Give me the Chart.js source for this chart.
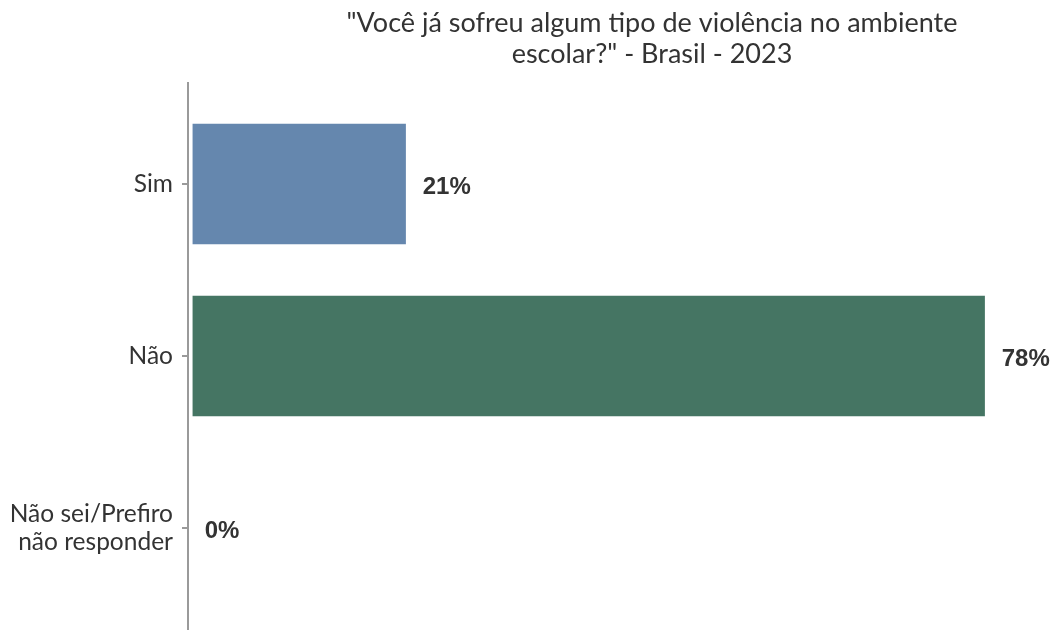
<!DOCTYPE html>
<html>
<head>
<meta charset="utf-8">
<script src="https://cdn.jsdelivr.net/npm/chart.js@4.4.1/dist/chart.umd.min.js"></script>
<style>
  html, body { margin: 0; padding: 0; background: #ffffff; }
  #wrap { width: 1056px; height: 630px; position: relative; }
</style>
</head>
<body>
<div id="wrap"><canvas id="c" width="1056" height="630"></canvas></div>
<script>
// Respostas e percentuais
const categories = [["Sim"], ["Não"], ["Não sei/Prefiro", "não responder"]];
const values = [21, 78, 0];
const valueLabels = ["21%", "78%", "0%"];
const barColors = ["#6587ae", "#457563", "#888888"];
const titleLines = ["\"Você já sofreu algum tipo de violência no ambiente", "escolar?\" - Brasil - 2023"];

// Título centralizado sobre o painel
const titlePlugin = {
  id: "titleLines",
  afterDraw(chart) {
    const ctx = chart.ctx;
    ctx.save();
    ctx.fillStyle = "#333333";
    ctx.font = "27px Lato";
    ctx.textAlign = "center";
    ctx.textBaseline = "alphabetic";
    titleLines.forEach((t, i) => ctx.fillText(t, 652, 32 + i * 31));
    ctx.restore();
  }
};

// Linha do eixo vertical, um pouco além da área das barras
const axisLinePlugin = {
  id: "axisLine",
  afterDraw(chart) {
    const { ctx, chartArea } = chart;
    ctx.save();
    ctx.strokeStyle = "#9a9a9a";
    ctx.lineWidth = 2;
    ctx.beginPath();
    ctx.moveTo(chartArea.left, chartArea.top - 16);
    ctx.lineTo(chartArea.left, chartArea.bottom + 16);
    ctx.stroke();
    ctx.restore();
  }
};

// Rótulos de valor à direita de cada barra
const valueLabelPlugin = {
  id: "valueLabels",
  afterDatasetsDraw(chart) {
    const ctx = chart.ctx;
    const meta = chart.getDatasetMeta(0);
    ctx.save();
    ctx.fillStyle = "#333333";
    ctx.font = "bold 24px 'Liberation Sans', Arial";
    ctx.textAlign = "left";
    ctx.textBaseline = "middle";
    meta.data.forEach((bar, i) => {
      const txt = valueLabels[i];
      const w = ctx.measureText(txt).width;
      ctx.fillText(txt, bar.x + 0.35 * w, bar.y + 3);
    });
    ctx.restore();
  }
};

new Chart(document.getElementById("c"), {
  type: "bar",
  data: {
    labels: categories,
    datasets: [{
      data: values,
      backgroundColor: barColors,
      borderWidth: 0,
      categoryPercentage: 1.0,
      barPercentage: 0.7
    }]
  },
  options: {
    indexAxis: "y",
    responsive: false,
    animation: false,
    layout: { padding: { top: 98, bottom: 16, left: 0, right: 0 } },
    plugins: {
      legend: { display: false },
      tooltip: { enabled: false },
      title: { display: false }
    },
    scales: {
      x: {
        display: false,
        min: -0.45,
        max: 85
      },
      y: {
        afterFit(scale) {
          scale.width = 188;
          scale.paddingTop = 0;
          scale.paddingBottom = 0;
        },
        border: { display: false },
        grid: {
          display: true,
          drawOnChartArea: false,
          drawTicks: true,
          tickLength: 6,
          offset: false,
          color: "#9a9a9a",
          lineWidth: 2
        },
        ticks: {
          color: "#333333",
          padding: 9,
          font: { family: "Lato", size: 24.5, lineHeight: 1.15 },
          crossAlign: "near"
        }
      }
    }
  },
  plugins: [titlePlugin, axisLinePlugin, valueLabelPlugin]
});
</script>
</body>
</html>
